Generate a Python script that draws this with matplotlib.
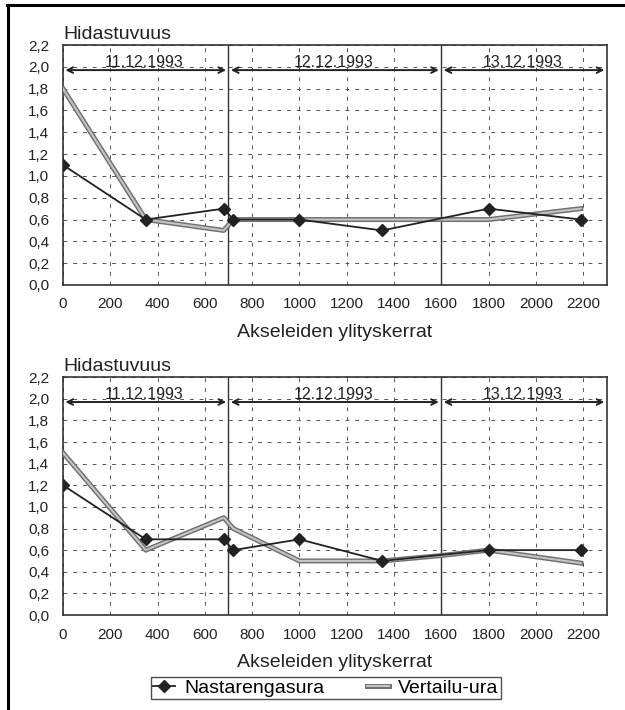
import matplotlib.pyplot as plt
import matplotlib.patheffects as pe
from matplotlib.lines import Line2D

plt.rcParams['font.family'] = ['Liberation Sans', 'DejaVu Sans']

# Akselien ylityskerrat (mittauskohdat)
x = [0, 350, 680, 720, 1000, 1350, 1800, 2190]
x_vert = [0, 350, 680, 720, 1000, 1350, 1600, 1800, 2190]

# Yläkuva
nasta_1 = [1.1, 0.6, 0.7, 0.6, 0.6, 0.5, 0.7, 0.6]
vert_1 = [1.8, 0.6, 0.5, 0.6, 0.6, 0.6, 0.6, 0.6, 0.7]

# Alakuva
nasta_2 = [1.2, 0.7, 0.7, 0.6, 0.7, 0.5, 0.6, 0.6]
vert_2 = [1.5, 0.6, 0.9, 0.8, 0.5, 0.5, 0.55, 0.6, 0.48]

paivat = ['11.12.1993', '12.12.1993', '13.12.1993']
rajat = [0, 700, 1600, 2300]
yticks = [0.0, 0.2, 0.4, 0.6, 0.8, 1.0, 1.2, 1.4, 1.6, 1.8, 2.0, 2.2]
xticks = list(range(0, 2201, 200))

fig = plt.figure(figsize=(6.25, 7.1), dpi=100)


def piirra(ax, nasta, vert):
    ax.set_xlim(0, 2300)
    ax.set_ylim(0, 2.2)
    ax.set_xticks(xticks)
    ax.set_xticklabels([str(t) for t in xticks], fontsize=11, color='#222222')
    ax.set_yticks(yticks)
    ax.set_yticklabels([f'{t:.1f}'.replace('.', ',') for t in yticks], fontsize=11,
                       color='#222222')
    ax.tick_params(axis='x', length=0, pad=9)
    ax.tick_params(axis='y', length=0, pad=10)
    ax.grid(True, color='#555555', linestyle=(0, (4, 6)), linewidth=0.7)
    for s in ax.spines.values():
        s.set_color('#333333')
        s.set_linewidth(1.2)

    # päivien rajat
    for r in rajat[1:-1]:
        ax.axvline(r, color='#333333', linewidth=1.0)
    for i, p in enumerate(paivat):
        ax.annotate('', xy=(rajat[i] + 10, 1.97), xytext=(rajat[i + 1] - 10, 1.97),
                    arrowprops=dict(arrowstyle='<->', color='#222222', lw=1.4,
                                    shrinkA=0, shrinkB=0))
        ax.text((rajat[i] + rajat[i + 1]) / 2 - 5, 2.0, p, ha='center', va='baseline',
                fontsize=11.5, color='#222222')

    ax.plot(x_vert, vert, color='#c4c4c4', linewidth=1.5, zorder=3,
            path_effects=[pe.Stroke(linewidth=3.6, foreground='#707070'), pe.Normal()])
    ax.plot(x, nasta, color='#222222', linewidth=1.3, marker='D', markersize=6.5,
            zorder=4)

    ax.text(0, 1.008, 'Hidastuvuus', transform=ax.transAxes, ha='left', va='bottom',
            fontsize=14, color='#222222')
    ax.set_xlabel('Akseleiden ylityskerrat', fontsize=14, labelpad=9, color='#222222')


ax1 = fig.add_axes([0.1008, 0.5986, 0.870, 0.338])
piirra(ax1, nasta_1, vert_1)
ax2 = fig.add_axes([0.1008, 0.1338, 0.870, 0.335])
piirra(ax2, nasta_2, vert_2)

# selite
h_nasta = Line2D([], [], color='#222222', linewidth=1.3, marker='D', markersize=6.5)
h_vert = Line2D([], [], color='#c4c4c4', linewidth=1.5,
                path_effects=[pe.Stroke(linewidth=3.6, foreground='#707070'), pe.Normal()])
leg = fig.legend([h_nasta, h_vert], ['Nastarengasura', 'Vertailu-ura'], loc='center',
                 ncol=2, bbox_to_anchor=(326 / 625, 1 - 688 / 710), fontsize=14,
                 frameon=True, fancybox=False, edgecolor='#222222',
                 handlelength=1.1, handletextpad=0.5, columnspacing=2.2,
                 borderpad=0.12, borderaxespad=0)
leg.get_frame().set_linewidth(1.0)

# reunaviivat vasemmalla ja ylhäällä
fig.add_artist(Line2D([7.5 / 625, 7.5 / 625], [0, 1 - 4.5 / 710], color='black',
                      linewidth=2.2, transform=fig.transFigure))
fig.add_artist(Line2D([6.5 / 625, 1], [1 - 4.5 / 710, 1 - 4.5 / 710], color='black',
                      linewidth=2.2, transform=fig.transFigure))

fig.savefig('out.png', dpi=100)
